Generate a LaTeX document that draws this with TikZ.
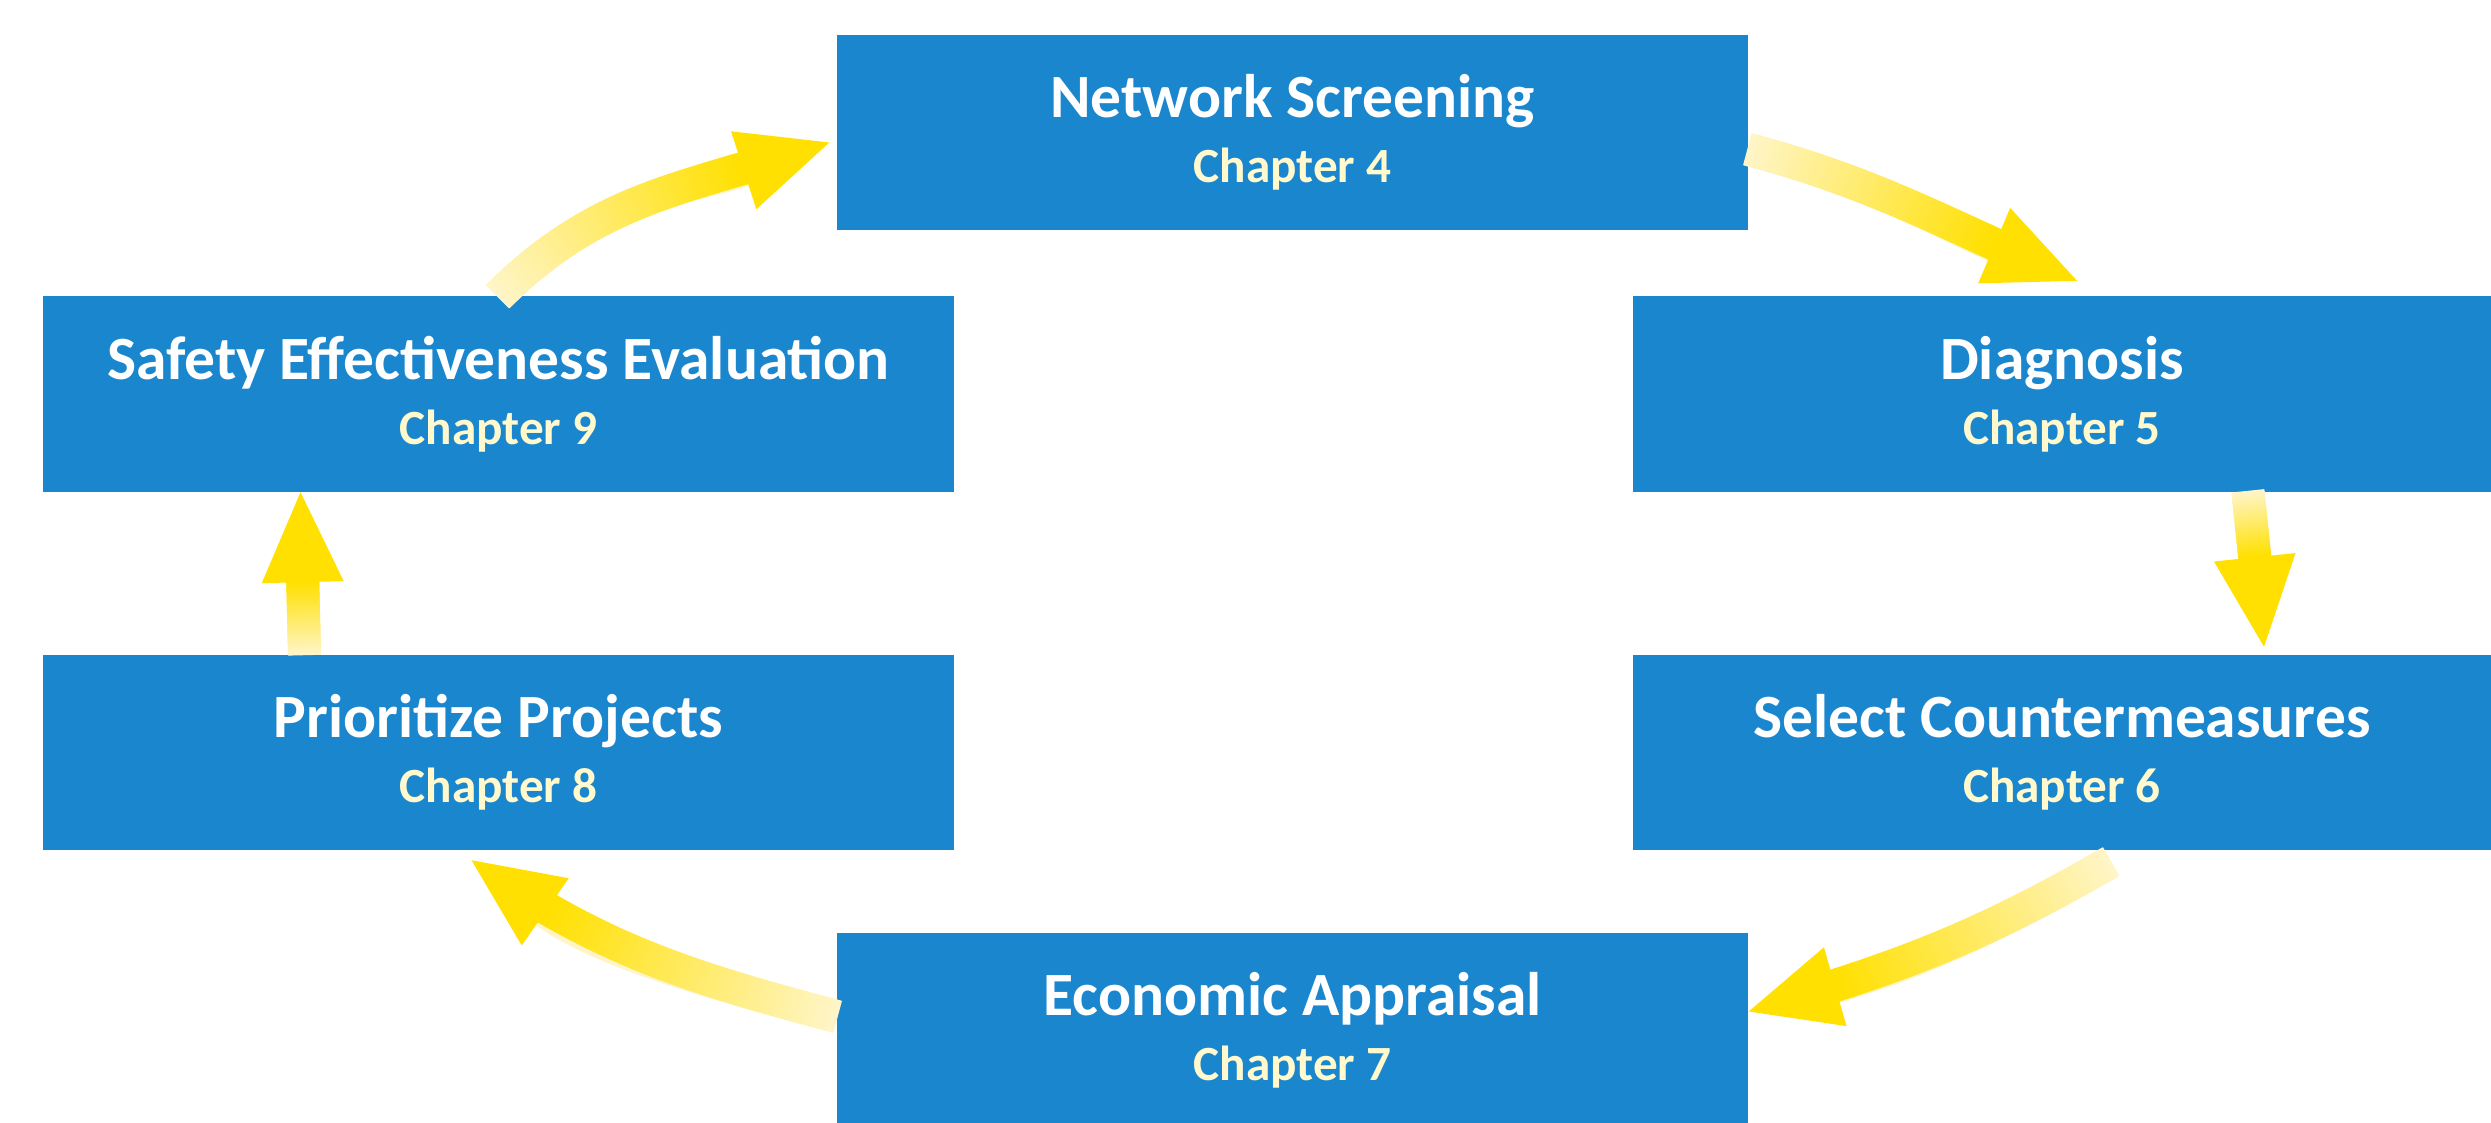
\documentclass[tikz,border=0pt]{standalone}
\usepackage{fontspec}
\setmainfont{Carlito}
\usepackage{tikz}
\usetikzlibrary{arrows.meta, decorations.markings}

\definecolor{stageblue}{RGB}{26,134,206}
\definecolor{chaptertext}{RGB}{255,249,205}
\definecolor{flowyellow}{RGB}{255,224,0}
\definecolor{flowpale}{RGB}{255,245,200}

\newcommand{\chapline}[1]{{\fontsize{14}{18.5}\selectfont\color{chaptertext}Chapter #1}}

\tikzset{
    stage/.style={rectangle, fill=stageblue, text=white, minimum width=9.11cm,
        minimum height=1.95cm, inner sep=0pt, align=center,
        font=\fontsize{17.5}{18.5}\selectfont\bfseries},
    stagecut/.style={stage, minimum width=8.58cm},
    % thick arrow, pale at the tail and full yellow at the head
    flow/.style={line width=3.3mm, draw=flowpale,
        -{Triangle[width=8.2mm, length=9mm, line width=0pt, color=flowyellow]},
        postaction={decorate, decoration={markings,
            mark=between positions 0 and -8.6mm step 0.5pt with {
                \pgfmathsetmacro\flowpct{min(100, \pgfkeysvalueof{/pgf/decoration/mark info/distance from start}/(\pgfdecoratedpathlength-9mm)*100)}
                \fill[flowyellow!\flowpct!flowpale] (-0.4pt,-1.65mm) rectangle (0.4pt,1.65mm);
            }}}}
}

\begin{document}
\begin{tikzpicture}[scale=1]
    \path[use as bounding box] (0,0) rectangle (24.91,11.22);
    \clip (0,0) rectangle (24.91,11.22);

    % the six steps of the cycle
    \node[stage] (net) at (12.925, 9.895) {Network Screening\\\chapline{4}};
    \node[stagecut] (diag) at (20.62, 7.28) {Diagnosis\\\chapline{5}};
    \node[stagecut] (sel) at (20.62, 3.70) {Select Countermeasures\\\chapline{6}};
    \node[stage] (econ) at (12.925, 0.915) {Economic Appraisal\\\chapline{7}};
    \node[stage] (prio) at (4.985, 3.70) {Prioritize Projects\\\chapline{8}};
    \node[stage] (safe) at (4.985, 7.28) {Safety Effectiveness Evaluation\\\chapline{9}};

    % arrows going round clockwise
    \draw[flow] (safe.north) to[out=45, in=198] ([xshift=-0.7mm, yshift=-1mm]net.west);
    \draw[flow] ([yshift=-1.7mm]net.east) to[out=-15, in=157] ([xshift=1.5mm, yshift=1.5mm]diag.north);
    \draw[flow] ([xshift=18.6mm]diag.south) -- ([xshift=20.2mm, yshift=0.7mm]sel.north);
    \draw[flow] ([xshift=4.8mm, yshift=-1.2mm]sel.south) to[out=210, in=16] ([yshift=1.9mm]econ.east);
    \draw[flow] ([yshift=1.4mm]econ.west) to[out=165, in=-35] ([xshift=-2.7mm, yshift=-1mm]prio.south);
    \draw[flow] ([xshift=-19.4mm]prio.north) -- ([xshift=-19.8mm]safe.south);
\end{tikzpicture}
\end{document}
